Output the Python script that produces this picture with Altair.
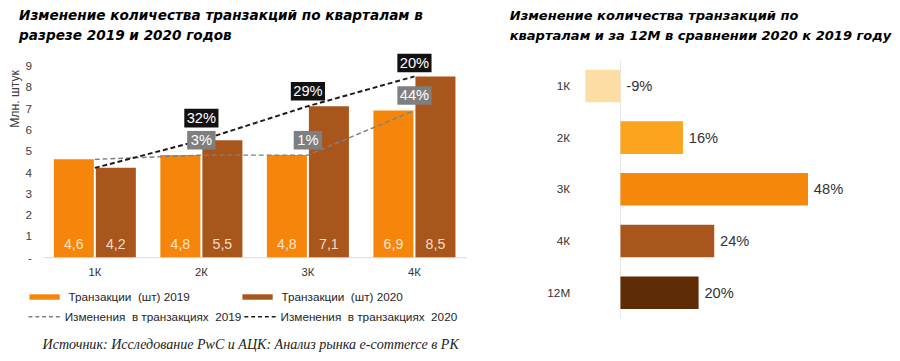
import altair as alt
import pandas as pd

# ---------------- data ----------------
quarters = ["1К", "2К", "3К", "4К"]
tx_2019 = [4.6, 4.8, 4.8, 6.9]
tx_2020 = [4.2, 5.5, 7.1, 8.5]
chg_2019 = ["", "3%", "1%", "44%"]
chg_2020 = ["", "32%", "29%", "20%"]
y_ticks = [0, 1, 2, 3, 4, 5, 6, 7, 8, 9]

bar_names = ["Транзакции\u00a0 (шт) 2019", "Транзакции\u00a0 (шт) 2020"]
line_names = ["Изменения\u00a0 в транзакциях\u00a0 2019", "Изменения\u00a0 в транзакциях\u00a0 2020"]

yoy_cats = ["1К", "2К", "3К", "4К", "12М"]
yoy_values = [-9, 16, 48, 24, 20]

left_title = ["Изменение количества транзакций по кварталам в", "разрезе 2019 и 2020 годов"]
right_title = ["Изменение количества транзакций по", "кварталам и за 12М в сравнении 2020 к 2019 году"]
source_text = "Источник: Исследование PwC и АЦК: Анализ рынка e-commerce в РК"

# ---------------- styles ----------------
C2019 = "#F5860B"
C2020 = "#A9561C"
YOY_COLORS = ["#FDDFA6", "#FCA41E", "#F5870A", "#A8561D", "#5E2D06"]
TXT = "#333333"
TITLE_FONT = "DejaVu Sans"

rows = []
for q, a, b in zip(quarters, tx_2019, tx_2020):
    rows.append({"q": q, "s": bar_names[0], "yr": "2019", "v": a})
    rows.append({"q": q, "s": bar_names[1], "yr": "2020", "v": b})
bars_df = pd.DataFrame(rows)

lrows = []
for i, q in enumerate(quarters):
    lrows.append({"q": q, "s": line_names[0], "yr": "2019", "v": tx_2019[i], "chg": chg_2019[i]})
    lrows.append({"q": q, "s": line_names[1], "yr": "2020", "v": tx_2020[i], "chg": chg_2020[i]})
lines_df = pd.DataFrame(lrows)

yoy_df = pd.DataFrame({"c": yoy_cats, "v": yoy_values})
zero_df = pd.DataFrame({"v": [0]})

# ---------------- left chart ----------------
x = alt.X(
    "q:N", sort=quarters,
    scale=alt.Scale(paddingInner=0.23, paddingOuter=0.1),
    axis=alt.Axis(title=None, labelAngle=0, ticks=False, domainColor="#d9d9d9",
                  labelPadding=10, labelFontSize=11.5, labelColor=TXT),
)
y_scale = alt.Scale(domain=[0, 9.23], nice=False)
y_axis = alt.Axis(values=y_ticks, labelExpr="datum.value == 0 ? '-' : datum.label",
                  grid=False, ticks=False, domain=False, labelPadding=12,
                  labelFontSize=12, labelColor="#404040",
                  title="Млн. штук", titleAnchor="end", titleY=9, titleFontWeight="normal",
                  titleFontSize=12.5, titleColor="#404040", titlePadding=4)


def yq(field):
    return alt.Y(field, scale=y_scale, axis=y_axis, title="Млн. штук")


rect_path = "M-1,-0.18L1,-0.18L1,0.18L-1,0.18Z"
bar_color = alt.Color(
    "s:N", scale=alt.Scale(domain=bar_names, range=[C2019, C2020]),
    legend=alt.Legend(title=None, orient="none", legendX=-15, legendY=225,
                      columns=2, symbolType=rect_path, symbolSize=961,
                      labelOffset=8, columnPadding=52, labelFontSize=12, labelLimit=300,
                      labelColor="#262626", labelFont="Liberation Sans"),
)
BW = alt.RelativeBandSize(band=0.488)
OFF = 21.5

bars19 = alt.Chart(bars_df).transform_filter("datum.yr == '2019'").mark_bar(
    width=BW, xOffset=-OFF).encode(x=x, y=yq("v:Q"), color=bar_color)
bars20 = alt.Chart(bars_df).transform_filter("datum.yr == '2020'").mark_bar(
    width=BW, xOffset=OFF).encode(x=x, y=yq("v:Q"), color=bar_color)

lbl_base = alt.Chart(bars_df).transform_calculate(
    lbl="replace(format(datum.v, '.1f'), '.', ',')", z="0"
)
lab19 = lbl_base.transform_filter("datum.yr == '2019'").mark_text(
    color="#FBE3C6", fontSize=14.5, baseline="middle", dy=-12, xOffset=-OFF
).encode(x=x, y=yq("z:Q"), text="lbl:N")
lab20 = lbl_base.transform_filter("datum.yr == '2020'").mark_text(
    color="#F6DCC4", fontSize=14.5, baseline="middle", dy=-12, xOffset=OFF
).encode(x=x, y=yq("z:Q"), text="lbl:N")

line_stroke = alt.Stroke(
    "s:N", scale=alt.Scale(domain=line_names, range=["#808080", "#1a1a1a"]),
    legend=alt.Legend(title=None, orient="none", legendX=-16, legendY=244,
                      columns=2, symbolType="stroke", symbolSize=1156,
                      symbolDash=[4, 3], symbolStrokeWidth=1.5,
                      labelOffset=2, columnPadding=0, labelFontSize=12, labelLimit=300,
                      labelColor="#262626", labelFont="Liberation Sans"),
)
line19 = alt.Chart(lines_df).transform_filter("datum.yr == '2019'").mark_line(
    strokeDash=[5, 3], strokeWidth=1.5).encode(x=x, y=yq("v:Q"), stroke=line_stroke)
line20 = alt.Chart(lines_df).transform_filter("datum.yr == '2020'").mark_line(
    strokeDash=[5, 3], strokeWidth=2).encode(x=x, y=yq("v:Q"), stroke=line_stroke)

wide = "M-1,-0.543L1,-0.543L1,0.543L-1,0.543Z"
narrow = "M-0.83,-0.543L0.83,-0.543L0.83,0.543L-0.83,0.543Z"
box_base = alt.Chart(lines_df).transform_filter("datum.chg != ''").transform_calculate(
    ly="datum.v + (datum.yr == '2020' && datum.q == '2К' ? 1.04 : (datum.yr == '2020' && datum.q == '4К' ? 0.63 : 0.7))",
    nc="length(datum.chg)",
)
box20 = box_base.transform_filter("datum.yr == '2020'").mark_point(
    filled=True, size=1225, opacity=1, strokeWidth=0, color="#111111", shape=wide
).encode(x=x, y=yq("ly:Q"))
box19w = box_base.transform_filter("datum.yr == '2019' && datum.nc > 2").mark_point(
    filled=True, size=1225, opacity=1, strokeWidth=0, color="#7f7f7f", shape=wide
).encode(x=x, y=yq("ly:Q"))
box19n = box_base.transform_filter("datum.yr == '2019' && datum.nc <= 2").mark_point(
    filled=True, size=1225, opacity=1, strokeWidth=0, color="#7f7f7f", shape=narrow
).encode(x=x, y=yq("ly:Q"))
box_text = box_base.mark_text(color="white", fontSize=15, baseline="middle").encode(
    x=x, y=yq("ly:Q"), text="chg:N"
)

left = alt.layer(bars19, bars20, lab19, lab20, line19, line20, box19w, box19n, box20, box_text).properties(
    width=433, height=201,
    title=alt.TitleParams(left_title, anchor="start", dx=11, offset=11,
                          font=TITLE_FONT, fontSize=13.95, fontStyle="italic",
                          fontWeight="bold", lineHeight=21, color="#000000"),
)

# ---------------- right chart ----------------
ry = alt.Y("c:N", sort=yoy_cats, scale=alt.Scale(paddingInner=0.37, paddingOuter=0.17),
           axis=alt.Axis(title=None, ticks=False, domain=False, labelPadding=12,
                         labelFontSize=12, labelColor=TXT))
rx_scale = alt.Scale(domain=[-10, 50], nice=False)

rbars = alt.Chart(yoy_df).mark_bar().encode(
    x=alt.X("v:Q", scale=rx_scale, axis=None), y=ry,
    color=alt.Color("c:N", scale=alt.Scale(domain=yoy_cats, range=YOY_COLORS), legend=None),
)
rzero = alt.Chart(zero_df).mark_rule(color="#e6e6e6", strokeWidth=1).encode(
    x=alt.X("v:Q", scale=rx_scale, axis=None))
rlabels = alt.Chart(yoy_df).transform_calculate(
    lbl="datum.v + '%'", lx="max(datum.v, 0)"
).mark_text(align="left", dx=6, fontSize=15, color=TXT).encode(
    x=alt.X("lx:Q", scale=rx_scale, axis=None), y=ry, text="lbl:N")

right = alt.layer(rzero, rbars, rlabels).properties(
    width=240, height=263,
    title=alt.TitleParams(right_title, anchor="start", dx=-38, offset=18,
                          font=TITLE_FONT, fontSize=13.35, fontStyle="italic",
                          fontWeight="bold", lineHeight=21, color="#000000"),
)

chart = alt.hconcat(left, right, spacing=44).resolve_scale(
    color="independent"
).properties(
    title=alt.TitleParams(source_text, orient="bottom", anchor="start", dx=35, offset=16,
                          font="Liberation Serif", fontSize=14.4, fontStyle="italic",
                          fontWeight="normal", color="#222222"),
).configure(font="Liberation Sans").configure_view(stroke=None)

try:
    c2 = chart.properties(padding={"top": -4, "left": 0, "right": 0, "bottom": 0})
    c2.to_dict()
    chart = c2
except Exception:
    chart = chart.properties(padding=0)

chart.save("out.html", embed_options={"renderer": "svg", "actions": False})
